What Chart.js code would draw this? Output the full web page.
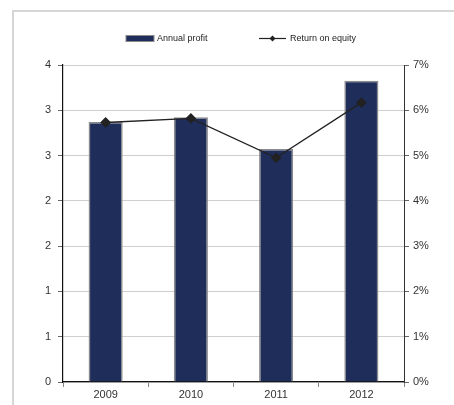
<!DOCTYPE html>
<html>
<head>
<meta charset="utf-8">
<script src="https://cdn.jsdelivr.net/npm/chart.js@4/dist/chart.umd.min.js"></script>
<style>
  html, body { margin: 0; padding: 0; background: #fff; }
  #wrap { position: relative; width: 454px; height: 405px; overflow: hidden; }
  #frame { position: absolute; left: 12px; top: 10px; width: 480px; height: 440px; border: 2px solid #d6d6d6; }
  canvas { position: absolute; left: 0; top: 0; }
</style>
</head>
<body>
<div id="wrap">
  <div id="frame"></div>
  <canvas id="chart" width="454" height="405"></canvas>
</div>
<script>
// chart data
const years = ['2009', '2010', '2011', '2012'];
const annualProfit = [3.28, 3.34, 2.94, 3.80];
const returnOnEquity = [5.73, 5.82, 4.95, 6.17]; // percent

const NAVY = '#1f2d5b';
const FONT = "'Liberation Sans', Arial, sans-serif";

// simple legend drawn above the plot, text taken from the datasets
const topLegend = {
  id: 'topLegend',
  afterDraw(chart) {
    const ctx = chart.ctx;
    const ds = chart.data.datasets;
    const barDs = ds.find(d => d.type === 'bar');
    const lineDs = ds.find(d => d.type === 'line');
    ctx.save();
    ctx.font = '9px ' + FONT;
    ctx.textBaseline = 'middle';
    const y = 38.5;

    // bar swatch
    ctx.fillStyle = NAVY;
    ctx.fillRect(126, 35.5, 28, 6);
    ctx.strokeStyle = '#8a8a8a';
    ctx.lineWidth = 1;
    ctx.strokeRect(126, 35.5, 28, 6);
    ctx.fillStyle = '#222';
    ctx.fillText(barDs.label, 157, y);

    // line swatch with diamond
    ctx.strokeStyle = '#222';
    ctx.lineWidth = 1.2;
    ctx.beginPath();
    ctx.moveTo(259, y);
    ctx.lineTo(286, y);
    ctx.stroke();
    ctx.beginPath();
    ctx.moveTo(272.5, y - 3);
    ctx.lineTo(275.5, y);
    ctx.lineTo(272.5, y + 3);
    ctx.lineTo(269.5, y);
    ctx.closePath();
    ctx.fill();
    ctx.fillText(lineDs.label, 290, y);
    ctx.restore();
  }
};

new Chart(document.getElementById('chart'), {
  data: {
    labels: years,
    datasets: [
      {
        type: 'line',
        label: 'Return on equity',
        data: returnOnEquity,
        yAxisID: 'y1',
        borderColor: '#222',
        borderWidth: 1.3,
        backgroundColor: '#222',
        pointStyle: 'rectRot',
        pointRadius: 4.5,
        pointBackgroundColor: '#222',
        pointBorderColor: '#222',
        tension: 0,
        order: 0
      },
      {
        type: 'bar',
        label: 'Annual profit',
        data: annualProfit,
        yAxisID: 'y',
        backgroundColor: NAVY,
        borderColor: '#8a8a8a',
        borderWidth: 1.5,
        barPercentage: 0.4,
        categoryPercentage: 1,
        order: 1
      }
    ]
  },
  options: {
    responsive: false,
    animation: false,
    layout: { padding: { top: 65, left: 0, right: 0, bottom: 0 } },
    plugins: {
      legend: { display: false },
      tooltip: { enabled: false }
    },
    scales: {
      x: {
        grid: { offset: true, drawOnChartArea: false, tickLength: 5, color: '#888', tickColor: '#888' },
        border: { color: '#111', width: 1.2 },
        ticks: { color: '#333', font: { family: FONT, size: 11 }, padding: 1 },
        afterFit(s) { s.height = 23; }
      },
      y: {
        position: 'left',
        min: 0,
        max: 4,
        afterBuildTicks(s) {
          s.ticks = [0, 1, 2, 3, 4, 5, 6, 7].map(i => ({ value: i * 4 / 7 }));
        },
        ticks: {
          color: '#333',
          font: { family: FONT, size: 11 },
          padding: 7,
          callback: v => Math.round(v)
        },
        grid: { color: '#cfcfcf', tickColor: '#666', tickLength: 5 },
        border: { color: '#111', width: 1.2 },
        afterFit(s) { s.width = 63; }
      },
      y1: {
        position: 'right',
        min: 0,
        max: 7,
        ticks: {
          stepSize: 1,
          color: '#333',
          font: { family: FONT, size: 11 },
          padding: 4,
          callback: v => v + '%'
        },
        grid: { drawOnChartArea: false, tickColor: '#666', tickLength: 5 },
        border: { color: '#333', width: 1 },
        afterFit(s) { s.width = 50; }
      }
    }
  },
  plugins: [topLegend]
});
</script>
</body>
</html>
